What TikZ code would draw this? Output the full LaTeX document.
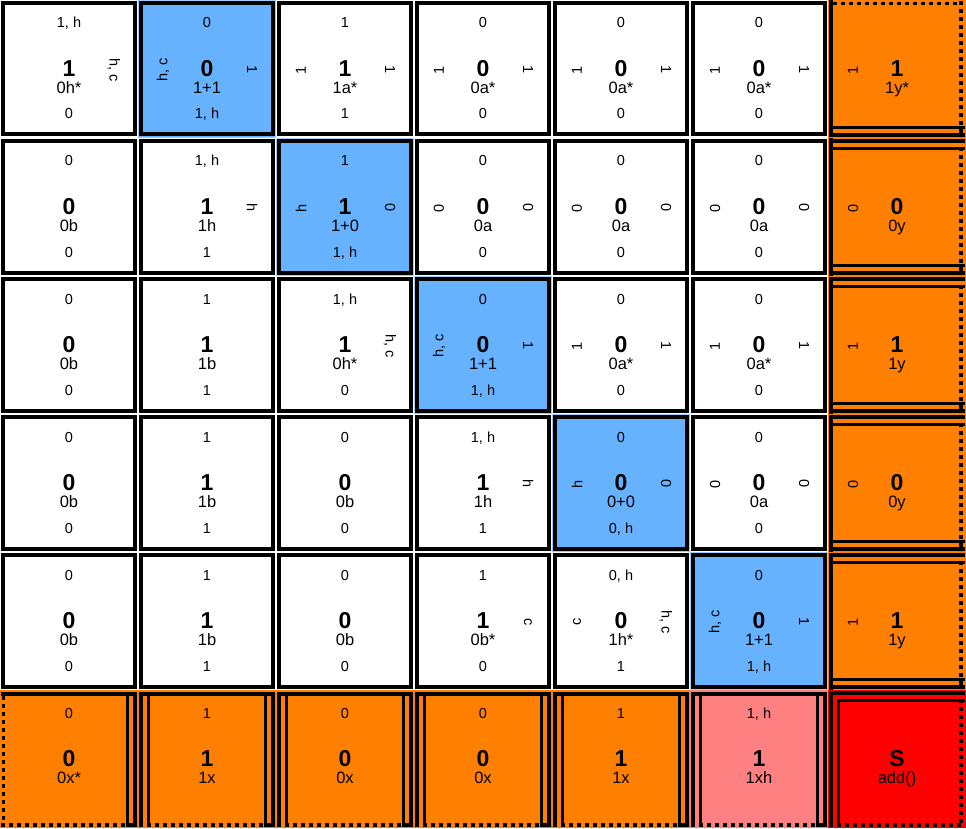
\documentclass[tikz,border=0pt]{standalone}
\usepackage{fontspec}
\setmainfont{Liberation Sans}
\definecolor{cblue}{RGB}{102,178,255}
\definecolor{cblueline}{RGB}{160,205,255}
\definecolor{corange}{RGB}{255,128,0}
\definecolor{cpink}{RGB}{255,128,128}
\definecolor{cred}{RGB}{255,0,0}
\tikzset{
  lbl/.style={font=\fontsize{14.5}{16}\selectfont, inner sep=0pt},
  big/.style={font=\fontsize{23}{25}\selectfont\bfseries, inner sep=0pt, anchor=base},
  subl/.style={font=\fontsize{16.5}{18}\selectfont, inner sep=0pt, anchor=base},
  boxline/.style={line width=4pt},
  solidline/.style={line width=4pt},
  dblline/.style={line width=3.6pt},
  dotline/.style={line width=3.6pt, dash pattern=on 3.6pt off 4.4pt},
}
% #1 row, #2 col, #3 fill, #4 top, #5 centre, #6 sub, #7 bottom, #8 left, #9 right
\newcommand\mycell[9]{%
  \begin{scope}[shift={(138*#2,138*#1)}]
    \fill[#3] (0,0) rectangle (138,138);
    \node[lbl,anchor=base] (t#1#2) at (69,28) {#4};
    \node[big] (m#1#2) at (69,76.5) {#5};
    \node[subl] (s#1#2) at (69,93.4) {#6};
    \node[lbl,anchor=base] (b#1#2) at (69,119) {#7};
    \node[lbl,rotate=90] (l#1#2) at (25,70) {#8};
    \node[lbl,rotate=-90] (r#1#2) at (114,70) {#9};
  \end{scope}}
% standard box border
\newcommand\stdbox[3]{%
  \begin{scope}[shift={(138*#2,138*#1)}]
    \draw[#3, line width=1pt] (0.5,0.5) rectangle (137.5,137.5);
    \draw[boxline] (3,3) rectangle (134.5,134.5);
  \end{scope}}
% right column orange border: #1 row, #2 top kind (dot or dbl)
\newcommand\rightbox[2]{%
  \begin{scope}[shift={(138*6,138*#1)}]
    \draw[solidline] (3,0.5) -- (3,137.5);
    \ifx d#2
      \draw[dotline] (5,3.5) -- (133,3.5);
    \else
      \draw[dblline] (3,3) -- (137,3);
      \draw[dblline] (3,10.5) -- (137,10.5);
    \fi
    \draw[dblline] (3,127.5) -- (137,127.5);
    \draw[dblline] (3,135) -- (137,135);
    \draw[dotline] (133,1) -- (133,137);
  \end{scope}}
% bottom row orange border: #1 col, #2 left kind (dot or dbl)
\newcommand\bottombox[2]{%
  \begin{scope}[shift={(138*#1,138*5)}]
    \draw[solidline] (1,4) -- (137,4);
    \ifx d#2
      \draw[dotline] (3.5,6) -- (3.5,137);
    \else
      \draw[dblline] (3,4) -- (3,137);
      \draw[dblline] (10.5,4) -- (10.5,137);
    \fi
    \draw[dblline] (127.5,4) -- (127.5,137);
    \draw[dblline] (135,4) -- (135,137);
    \draw[dotline] (1,135) -- (137,135);
  \end{scope}}
\begin{document}
\begin{tikzpicture}[x=1pt,y=-1pt]
\useasboundingbox (0,0) rectangle (966,829);
\fill[white] (0,0) rectangle (966,829);
% row 0
\mycell{0}{0}{white}{1, h}{1}{0h*}{0}{}{h, c}
\mycell{0}{1}{cblue}{0}{0}{1+1}{1, h}{h, c}{1}
\mycell{0}{2}{white}{1}{1}{1a*}{1}{1}{1}
\mycell{0}{3}{white}{0}{0}{0a*}{0}{1}{1}
\mycell{0}{4}{white}{0}{0}{0a*}{0}{1}{1}
\mycell{0}{5}{white}{0}{0}{0a*}{0}{1}{1}
\mycell{0}{6}{corange}{}{1}{1y*}{}{1}{}
% row 1
\mycell{1}{0}{white}{0}{0}{0b}{0}{}{}
\mycell{1}{1}{white}{1, h}{1}{1h}{1}{}{h}
\mycell{1}{2}{cblue}{1}{1}{1+0}{1, h}{h}{0}
\mycell{1}{3}{white}{0}{0}{0a}{0}{0}{0}
\mycell{1}{4}{white}{0}{0}{0a}{0}{0}{0}
\mycell{1}{5}{white}{0}{0}{0a}{0}{0}{0}
\mycell{1}{6}{corange}{}{0}{0y}{}{0}{}
% row 2
\mycell{2}{0}{white}{0}{0}{0b}{0}{}{}
\mycell{2}{1}{white}{1}{1}{1b}{1}{}{}
\mycell{2}{2}{white}{1, h}{1}{0h*}{0}{}{h, c}
\mycell{2}{3}{cblue}{0}{0}{1+1}{1, h}{h, c}{1}
\mycell{2}{4}{white}{0}{0}{0a*}{0}{1}{1}
\mycell{2}{5}{white}{0}{0}{0a*}{0}{1}{1}
\mycell{2}{6}{corange}{}{1}{1y}{}{1}{}
% row 3
\mycell{3}{0}{white}{0}{0}{0b}{0}{}{}
\mycell{3}{1}{white}{1}{1}{1b}{1}{}{}
\mycell{3}{2}{white}{0}{0}{0b}{0}{}{}
\mycell{3}{3}{white}{1, h}{1}{1h}{1}{}{h}
\mycell{3}{4}{cblue}{0}{0}{0+0}{0, h}{h}{0}
\mycell{3}{5}{white}{0}{0}{0a}{0}{0}{0}
\mycell{3}{6}{corange}{}{0}{0y}{}{0}{}
% row 4
\mycell{4}{0}{white}{0}{0}{0b}{0}{}{}
\mycell{4}{1}{white}{1}{1}{1b}{1}{}{}
\mycell{4}{2}{white}{0}{0}{0b}{0}{}{}
\mycell{4}{3}{white}{1}{1}{0b*}{0}{}{c}
\mycell{4}{4}{white}{0, h}{0}{1h*}{1}{c}{h, c}
\mycell{4}{5}{cblue}{0}{0}{1+1}{1, h}{h, c}{1}
\mycell{4}{6}{corange}{}{1}{1y}{}{1}{}
% row 5
\mycell{5}{0}{corange}{0}{0}{0x*}{}{}{}
\mycell{5}{1}{corange}{1}{1}{1x}{}{}{}
\mycell{5}{2}{corange}{0}{0}{0x}{}{}{}
\mycell{5}{3}{corange}{0}{0}{0x}{}{}{}
\mycell{5}{4}{corange}{1}{1}{1x}{}{}{}
\mycell{5}{5}{cpink}{1, h}{1}{1xh}{}{}{}
\mycell{5}{6}{cred}{}{S}{add()}{}{}{}
% borders
\foreach \r/\c/\col in {0/0/white,0/1/cblueline,0/2/white,0/3/white,0/4/white,0/5/white,
  1/0/white,1/1/white,1/2/cblueline,1/3/white,1/4/white,1/5/white,
  2/0/white,2/1/white,2/2/white,2/3/cblueline,2/4/white,2/5/white,
  3/0/white,3/1/white,3/2/white,3/3/white,3/4/cblueline,3/5/white,
  4/0/white,4/1/white,4/2/white,4/3/white,4/4/white,4/5/cblueline}
  {\stdbox{\r}{\c}{\col}}
\rightbox{0}{d}
\rightbox{1}{b}
\rightbox{2}{b}
\rightbox{3}{b}
\rightbox{4}{b}
\bottombox{0}{d}
\bottombox{1}{b}
\bottombox{2}{b}
\bottombox{3}{b}
\bottombox{4}{b}
\bottombox{5}{b}
% corner
\begin{scope}[shift={(138*6,138*5)}]
  \draw[dblline] (3,137) -- (3,3) -- (137,3);
  \draw[dblline] (10.5,137) -- (10.5,10.5) -- (137,10.5);
  \draw[dotline] (133,1) -- (133,137);
  \draw[dotline] (1,135) -- (137,135);
\end{scope}
\end{tikzpicture}
\end{document}
